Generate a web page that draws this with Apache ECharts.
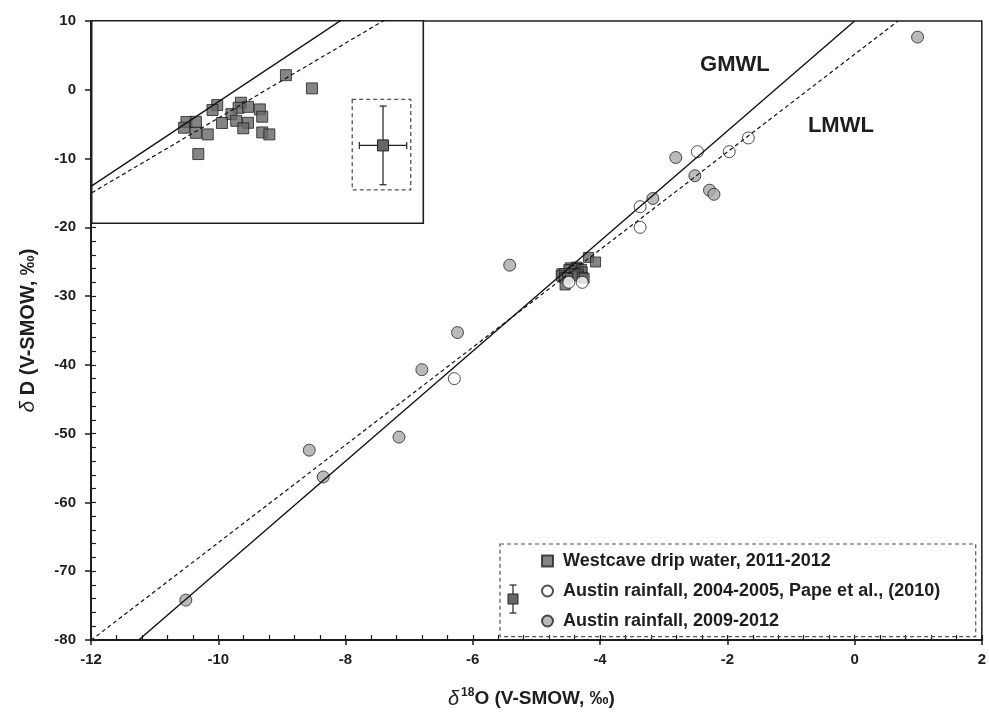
<!DOCTYPE html>
<html>
<head>
<meta charset="utf-8">
<script src="https://cdn.jsdelivr.net/npm/echarts@6/dist/echarts.min.js"></script>
<style>
  html, body { margin: 0; padding: 0; background: #fff; }
  #chart { width: 989px; height: 714px; }
</style>
</head>
<body>
<div id="chart"></div>
<script>
// Stable isotopes of drip water and rainfall: δD against δ18O
const FONT = '"Liberation Sans", Arial, Helvetica, sans-serif';

// Axis extents and tick steps
const xRange = [-12, 2];
const yRange = [-80, 10];
const xMajor = 2, xMinor = 0.4;
const yMajor = 10, yMinor = 2;

// Detail panel extents (data units)
const detailX = [-5.0, -3.6];
const detailY = [-31.9, -21.6];

// Series names
const nameDrip = 'Westcave drip water, 2011-2012';
const namePape = 'Austin rainfall, 2004-2005, Pape et al., (2010)';
const nameRain = 'Austin rainfall, 2009-2012';

// Westcave drip water samples [δ18O, δD]
const dripWater = [
  [-4.18, -24.37], [-4.07, -25.04], [-4.47, -25.89], [-4.49, -26.14],
  [-4.37, -25.77], [-4.38, -26.03], [-4.34, -25.98], [-4.29, -26.11],
  [-4.28, -26.48], [-4.41, -26.35], [-4.39, -26.69], [-4.45, -26.80],
  [-4.34, -26.79], [-4.36, -27.07], [-4.60, -26.75], [-4.56, -26.74],
  [-4.61, -27.04], [-4.56, -27.30], [-4.51, -27.38], [-4.28, -27.28],
  [-4.25, -27.38], [-4.55, -28.38]
];

// Austin rainfall 2004-2005 (Pape et al., 2010)
const rainPape = [
  [-4.49, -28.0], [-4.28, -28.0], [-6.29, -42.0], [-3.37, -17.0],
  [-3.37, -20.0], [-2.47, -9.0], [-1.97, -9.0], [-1.67, -7.0]
];

// Austin rainfall 2009-2012
const rain0912 = [
  [0.99, 7.66], [-2.81, -9.85], [-2.51, -12.5], [-2.28, -14.6],
  [-2.21, -15.2], [-3.17, -15.8], [-5.42, -25.5], [-6.24, -35.3],
  [-6.80, -40.7], [-7.16, -50.5], [-8.57, -52.4], [-8.35, -56.3],
  [-10.51, -74.2]
];

// Meteoric water lines, end points [δ18O, δD]
const gmwl = [[-11.25, -80], [0, 10]];      // δD = 8·δ18O + 10
const lmwl = [[-12, -80.05], [0.683, 10]];  // local line

// Analytical uncertainty marker inside the detail panel
const errCentre = [[-3.77, -27.94]];
const errHalf = { x: 0.1, y: 2 };
const errBoxX = [-3.900, -3.653];
const errBoxY = [-25.6, -30.2];

// Line label anchors (data units)
const lineLabels = [
  { text: 'GMWL', at: [-1.88, 3.68] },
  { text: 'LMWL', at: [-0.215, -5.2] }
];

const ink = '#1e1e1e';
const chart = echarts.init(document.getElementById('chart'), null, { renderer: 'canvas' });

const boldTick = { fontFamily: FONT, fontSize: 15, fontWeight: 'bold', color: ink };

const option = {
  animation: false,
  backgroundColor: '#fff',
  grid: [
    { left: 91, top: 21, width: 893.3, height: 627, show: true, borderColor: ink, borderWidth: 1.5, backgroundColor: 'transparent' },
    { left: 91.7, top: 20.7, width: 331.6, height: 202.6, show: true, borderColor: ink, borderWidth: 1.6, backgroundColor: '#fff', z: 10 }
  ],
  xAxis: [
    {
      gridIndex: 0, type: 'value', position: 'bottom',
      min: xRange[0], max: xRange[1], interval: xMajor,
      axisLine: { show: true, onZero: false, lineStyle: { color: ink, width: 2 } },
      axisTick: { show: true, inside: false, length: 5, lineStyle: { color: ink, width: 1.5 } },
      axisLabel: Object.assign({ margin: 12 }, boldTick),
      splitLine: { show: false },
      name: '{d|δ}{s|18}{t|O (V-SMOW, ‰)}',
      nameLocation: 'middle', nameGap: 47,
      nameTextStyle: {
        padding: [0, 10, 0, 0],
        rich: {
          d: { fontFamily: FONT, fontSize: 20, fontStyle: 'italic', color: ink, padding: [0, 2, 0, 0], lineHeight: 24 },
          s: { fontFamily: FONT, fontSize: 12, fontWeight: 'bold', color: ink, verticalAlign: 'top', lineHeight: 24 },
          t: { fontFamily: FONT, fontSize: 19, fontWeight: 'bold', color: ink, lineHeight: 24 }
        }
      }
    },
    {
      gridIndex: 0, type: 'value', position: 'bottom',
      min: xRange[0], max: xRange[1], interval: xMinor,
      axisLine: { show: false, onZero: false },
      axisTick: { show: true, inside: true, length: 5, lineStyle: { color: ink, width: 1.2 } },
      axisLabel: { show: false }, splitLine: { show: false }
    },
    { gridIndex: 1, type: 'value', min: detailX[0], max: detailX[1], show: false, splitLine: { show: false } }
  ],
  yAxis: [
    {
      gridIndex: 0, type: 'value', position: 'left',
      min: yRange[0], max: yRange[1], interval: yMajor,
      axisLine: { show: true, onZero: false, lineStyle: { color: ink, width: 2 } },
      axisTick: { show: true, inside: false, length: 6, lineStyle: { color: ink, width: 1.5 } },
      axisLabel: Object.assign({ margin: 15 }, boldTick),
      splitLine: { show: false },
      name: '{d|δ}{t| D (V-SMOW, ‰)}',
      nameLocation: 'middle', nameGap: 52, nameRotate: 90,
      nameTextStyle: {
        rich: {
          d: { fontFamily: FONT, fontSize: 21, fontStyle: 'italic', color: ink },
          t: { fontFamily: FONT, fontSize: 20, fontWeight: 'bold', color: ink }
        }
      }
    },
    {
      gridIndex: 0, type: 'value', position: 'left',
      min: yRange[0], max: yRange[1], interval: yMinor,
      axisLine: { show: false, onZero: false },
      axisTick: { show: true, inside: true, length: 5, lineStyle: { color: ink, width: 1.2 } },
      axisLabel: { show: false }, splitLine: { show: false }
    },
    { gridIndex: 1, type: 'value', min: detailY[0], max: detailY[1], show: false, splitLine: { show: false } }
  ],
  legend: {
    data: [
      { name: nameDrip, icon: 'rect' },
      { name: namePape, icon: 'circle' },
      { name: nameRain, icon: 'circle' }
    ],
    orient: 'vertical', left: 536, top: 546, z: 8,
    itemWidth: 11, itemHeight: 11, itemGap: 10,
    selectedMode: false,
    textStyle: { fontFamily: FONT, fontSize: 18, fontWeight: 'bold', color: ink, lineHeight: 20, padding: [0, 0, 0, 5] }
  },
  series: [
    {
      name: nameDrip, type: 'scatter', xAxisIndex: 0, yAxisIndex: 0,
      data: dripWater, symbol: 'rect', symbolSize: 10, z: 2,
      itemStyle: { color: '#676767', borderColor: '#222', borderWidth: 1 }
    },
    {
      name: namePape, type: 'scatter', xAxisIndex: 0, yAxisIndex: 0,
      data: rainPape, symbol: 'circle', symbolSize: 12, z: 2,
      itemStyle: { color: '#ffffff', borderColor: '#222', borderWidth: 1 }
    },
    {
      name: nameRain, type: 'scatter', xAxisIndex: 0, yAxisIndex: 0,
      data: rain0912, symbol: 'circle', symbolSize: 12, z: 2,
      itemStyle: { color: '#a9a9a9', borderColor: '#222', borderWidth: 1 }
    },
    {
      name: 'GMWL', type: 'line', xAxisIndex: 0, yAxisIndex: 0, data: gmwl,
      showSymbol: false, symbol: 'none', silent: true, z: 3,
      lineStyle: { color: '#111', width: 1.4 }
    },
    {
      name: 'LMWL', type: 'line', xAxisIndex: 0, yAxisIndex: 0, data: lmwl,
      showSymbol: false, symbol: 'none', silent: true, z: 3,
      lineStyle: { color: '#111', width: 1.2, type: [4, 3] }
    },
    // Detail panel
    {
      name: 'drip detail', type: 'scatter', xAxisIndex: 2, yAxisIndex: 2,
      data: dripWater, symbol: 'rect', symbolSize: 11, z: 12,
      itemStyle: { color: '#676767', borderColor: '#222', borderWidth: 1 }
    },
    {
      name: 'GMWL detail', type: 'line', xAxisIndex: 2, yAxisIndex: 2, data: gmwl,
      showSymbol: false, symbol: 'none', silent: true, z: 13, clip: true,
      lineStyle: { color: '#111', width: 1.4 }
    },
    {
      name: 'LMWL detail', type: 'line', xAxisIndex: 2, yAxisIndex: 2, data: lmwl,
      showSymbol: false, symbol: 'none', silent: true, z: 13, clip: true,
      lineStyle: { color: '#111', width: 1.2, type: [4, 3] }
    },
    {
      name: 'uncertainty', type: 'custom', xAxisIndex: 2, yAxisIndex: 2,
      data: errCentre, z: 13, silent: true,
      renderItem: function (params, api) {
        const x = api.value(0), y = api.value(1);
        const c = api.coord([x, y]);
        const l = api.coord([x - errHalf.x, y]);
        const r = api.coord([x + errHalf.x, y]);
        const t = api.coord([x, y + errHalf.y]);
        const b = api.coord([x, y - errHalf.y]);
        const b0 = api.coord([errBoxX[0], errBoxY[0]]);
        const b1 = api.coord([errBoxX[1], errBoxY[1]]);
        const cap = 3.5, sq = 11;
        const ls = { stroke: '#222', lineWidth: 1.2 };
        return {
          type: 'group',
          children: [
            { type: 'rect', shape: { x: b0[0], y: b0[1], width: b1[0] - b0[0], height: b1[1] - b0[1] },
              style: { fill: null, stroke: '#555', lineWidth: 1.3, lineDash: [4, 3] } },
            { type: 'line', shape: { x1: l[0], y1: l[1], x2: r[0], y2: r[1] }, style: ls },
            { type: 'line', shape: { x1: t[0], y1: t[1], x2: b[0], y2: b[1] }, style: ls },
            { type: 'line', shape: { x1: l[0], y1: l[1] - cap, x2: l[0], y2: l[1] + cap }, style: ls },
            { type: 'line', shape: { x1: r[0], y1: r[1] - cap, x2: r[0], y2: r[1] + cap }, style: ls },
            { type: 'line', shape: { x1: t[0] - cap, y1: t[1], x2: t[0] + cap, y2: t[1] }, style: ls },
            { type: 'line', shape: { x1: b[0] - cap, y1: b[1], x2: b[0] + cap, y2: b[1] }, style: ls },
            { type: 'rect', shape: { x: c[0] - sq / 2, y: c[1] - sq / 2, width: sq, height: sq },
              style: { fill: '#676767', stroke: '#222', lineWidth: 1 } }
          ]
        };
      }
    }
  ]
};

chart.setOption(option);

// Legend frame, its uncertainty glyph and the line labels
const legendBox = { x: 500, y: 544, w: 475.7, h: 92.7 };
const glyph = { cx: 513, cy: 599, half: 14, cap: 3.5, sq: 10 };
const glyphLine = { stroke: '#222', lineWidth: 1.2 };
const graphics = [
  {
    type: 'rect', z: 1, silent: true,
    shape: { x: legendBox.x, y: legendBox.y, width: legendBox.w, height: legendBox.h },
    style: { fill: null, stroke: '#555', lineWidth: 1.2, lineDash: [4, 3] }
  },
  { type: 'line', z: 9, silent: true, shape: { x1: glyph.cx, y1: glyph.cy - glyph.half, x2: glyph.cx, y2: glyph.cy + glyph.half }, style: glyphLine },
  { type: 'line', z: 9, silent: true, shape: { x1: glyph.cx - glyph.cap, y1: glyph.cy - glyph.half, x2: glyph.cx + glyph.cap, y2: glyph.cy - glyph.half }, style: glyphLine },
  { type: 'line', z: 9, silent: true, shape: { x1: glyph.cx - glyph.cap, y1: glyph.cy + glyph.half, x2: glyph.cx + glyph.cap, y2: glyph.cy + glyph.half }, style: glyphLine },
  { type: 'rect', z: 10, silent: true, shape: { x: glyph.cx - glyph.sq / 2, y: glyph.cy - glyph.sq / 2, width: glyph.sq, height: glyph.sq }, style: { fill: '#676767', stroke: '#222', lineWidth: 1 } }
];
lineLabels.forEach(function (lb) {
  const p = chart.convertToPixel({ xAxisIndex: 0, yAxisIndex: 0 }, lb.at);
  graphics.push({
    type: 'text', z: 9, silent: true, x: p[0], y: p[1],
    style: { text: lb.text, font: 'bold 22px ' + FONT, fill: ink, align: 'center', verticalAlign: 'middle' }
  });
});
chart.setOption({ graphic: graphics });
</script>
</body>
</html>
